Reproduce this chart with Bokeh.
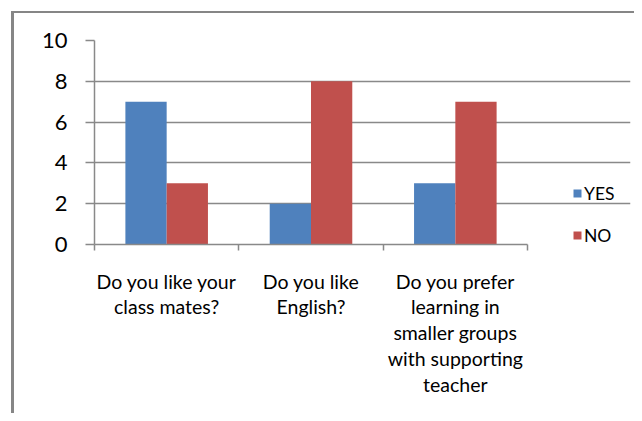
from bokeh.plotting import figure
from bokeh.models import Range1d, FixedTicker, Legend, LegendItem, ColumnDataSource
from bokeh.transform import dodge
from bokeh.embed import file_html
from bokeh.resources import INLINE

categories = ["Do you like your class mates?", "Do you like English?",
              "Do you prefer learning in smaller groups with supporting teacher"]
tick_labels = ["Do you like your\nclass mates?", "Do you like\nEnglish?",
               "Do you prefer\nlearning in\nsmaller groups\nwith supporting\nteacher"]
yes_values = [7, 2, 3]
no_values = [3, 8, 7]
y_ticks = [0, 2, 4, 6, 8, 10]
series_names = ["YES", "NO"]

BLUE = "#4F81BD"
RED = "#C0504D"
GREY = "#898989"
FONT = "Lato"

n = len(categories)
positions = [i + 0.5 for i in range(n)]
bounds = list(range(n + 1))

source = ColumnDataSource(dict(x=positions, yes=yes_values, no=no_values))

# frame spans x 94..630 px; the category area ends at 527 px, the rest holds the legend
x_end = n * (630 - 94) / (527 - 94)

p = figure(width=634, height=413, output_backend="svg", toolbar_location=None,
           x_range=Range1d(0, x_end), y_range=Range1d(0, 10),
           min_border_left=94, min_border_right=4, min_border_top=40, min_border_bottom=169)
p.outline_line_color = None
p.background_fill_color = "white"
p.border_fill_alpha = 0
# outer chart border (left and top edges visible), drawn behind the transparent canvas
p.styles = {
    "background-color": "white",
    "background-image": "linear-gradient(#868686, #868686), linear-gradient(#868686, #868686)",
    "background-position": "11px 11px, 11px 11px",
    "background-size": "3px 100%, 100% 2px",
    "background-repeat": "no-repeat, no-repeat",
}

bw = 0.286
r_yes = p.vbar(x=dodge("x", -bw / 2, range=p.x_range), top="yes", width=bw, source=source,
               fill_color=BLUE, line_color=None)
r_no = p.vbar(x=dodge("x", bw / 2, range=p.x_range), top="no", width=bw, source=source,
              fill_color=RED, line_color=None)

# x axis
p.xaxis.ticker = FixedTicker(ticks=positions, minor_ticks=bounds)
p.xaxis.bounds = (0, n)
p.xaxis.major_label_overrides = {pos: lab for pos, lab in zip(positions, tick_labels)}
p.xaxis.major_tick_line_color = None
p.xaxis.major_tick_in = 0
p.xaxis.major_tick_out = 0
p.xaxis.minor_tick_in = 0
p.xaxis.minor_tick_out = 6
p.xaxis.minor_tick_line_color = GREY
p.xaxis.minor_tick_line_width = 1.5
p.xaxis.axis_line_color = GREY
p.xaxis.axis_line_width = 1.5
p.xaxis.major_label_text_font = FONT
p.xaxis.major_label_text_font_size = "19.5px"
p.xaxis.major_label_text_line_height = 1.12
p.xaxis.major_label_text_color = "black"
p.xaxis.major_label_standoff = 19
p.xgrid.visible = False

# y axis
p.yaxis.ticker = FixedTicker(ticks=y_ticks)
p.yaxis.minor_tick_line_color = None
p.yaxis.major_tick_in = 0
p.yaxis.major_tick_out = 9
p.yaxis.major_tick_line_color = GREY
p.yaxis.major_tick_line_width = 1.5
p.yaxis.axis_line_color = GREY
p.yaxis.axis_line_width = 1.5
p.yaxis.major_label_text_font = FONT
p.yaxis.major_label_text_font_size = "22px"
p.yaxis.major_label_text_color = "black"
p.yaxis.major_label_standoff = 18
p.ygrid.ticker = FixedTicker(ticks=y_ticks)
p.ygrid.bounds = (0, n)
p.ygrid.grid_line_color = GREY
p.ygrid.grid_line_width = 1.5

legend = Legend(items=[LegendItem(label=series_names[0], renderers=[r_yes]),
                       LegendItem(label=series_names[1], renderers=[r_no])],
                location=(478, -2), orientation="vertical",
                glyph_width=10, glyph_height=10, label_standoff=2, label_height=22,
                padding=0, margin=0, spacing=20, border_line_color=None,
                background_fill_alpha=0,
                label_text_font=FONT, label_text_font_size="17.5px", label_text_color="black")
p.add_layout(legend, "center")

open("out.html", "w").write(file_html(p, INLINE))
